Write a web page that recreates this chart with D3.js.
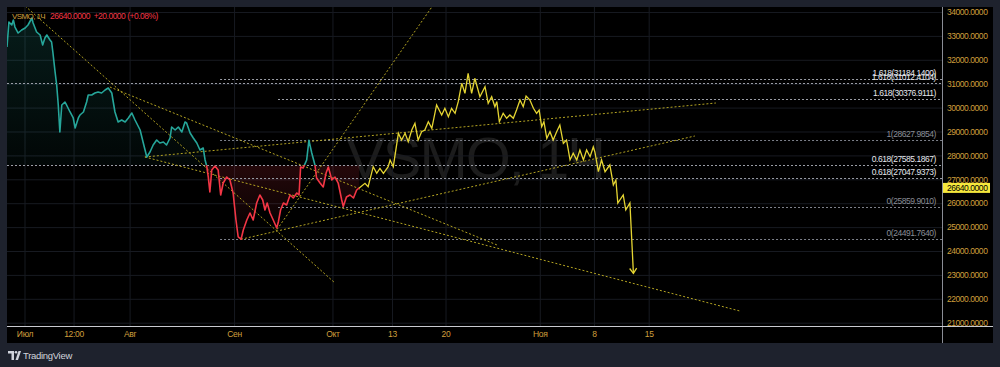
<!DOCTYPE html>
<html><head><meta charset="utf-8">
<script src="https://cdn.jsdelivr.net/npm/d3@7/dist/d3.min.js"></script>
<style>
html,body{margin:0;padding:0;background:#1e222d;overflow:hidden;}
svg{display:block;}
text{font-family:"Liberation Sans",Arial,sans-serif;}
</style></head><body>
<svg id="chart" width="1000" height="367"></svg>
<script>
// ---------- DATA ----------
// hourly bar index (x) and price (y) of the VSMO baseline series
const historyBars = [0,6,15,20,25,35,46,57,66,78,82,93,104,112,119,125,135,140,144,151,156,161,166,172,182,187,198,208,214,224,229,240,250,255,266,276,286,297,308,318,329,339,349,360,371,381,392,402,418,428,439,449,459,470,480,491,501,512,517,528,538,549,559,564,575,585,596,606,616,622,627,632,637,643,653,663,671,679,690,700,710,719,726,735,742,753,763,773,784,794,803,810,817,826,836,847,852,859,868,878,889,899,910,917,922,930,941,948,957,967,972,983,993,1002,1009,1020,1030,1040,1051,1056,1066,1077,1088,1098,1106];
const historyPrices = [32535,33581,33456,33665,33372,33121,33247,33330,33456,33749,33540,33163,33038,32619,32912,33038,32828,32745,32326,31489,30946,30109,28979,30109,30234,30109,29816,29565,29146,29565,29690,29816,30234,30527,30527,30611,30653,30611,30736,30820,30611,29816,29397,29481,29397,29565,29774,29481,29063,28519,27933,28142,28435,28644,28519,28561,28435,28728,29188,29063,29188,28979,29397,29356,28937,28728,28519,28226,28310,27808,27557,27096,26469,27389,27557,27389,26343,26845,27096,26971,26427,25297,24586,24492,24879,25297,25590,25297,26008,26343,26134,25716,26008,25590,25297,24962,25213,25716,26008,25925,26343,26218,26427,26343,27515,27473,27808,28628,28100,27598,27054,26845,26678,27264,27515,26971,27096,26845,26134,25860,26259,26343,26218,26552,26640];
const baselineValue = 27585.1867;

// projected (drawn) path
const pathBars = [1106,1124,1134,1150,1161,1171,1182,1197,1203,1213,1229,1239,1250,1260,1271,1281,1291,1302,1312,1323,1334,1349,1365,1375,1386,1396,1407,1417,1428,1438,1448,1459,1469,1485,1501,1511,1522,1532,1538,1546,1558,1569,1579,1590,1600,1611,1621,1630,1642,1653,1663,1671,1679,1686,1695,1705,1715,1726,1736,1747,1757,1768,1778,1789,1799,1810,1820,1831,1841,1846,1857,1867,1878,1893,1904,1912,1918,1935,1943,1956,1967];
const pathPrices = [26640,26833,26690,27527,27251,27460,27251,27527,27808,27527,28925,28644,28925,28573,29063,29343,28644,28992,29063,29410,29134,30109,29690,29971,29619,29971,29761,30247,31017,30598,31435,30598,31226,30456,30874,30180,30456,30038,30247,29410,29761,29552,29690,29552,29900,30318,30038,30485,30318,29971,29761,29900,29201,29410,28716,28992,28644,28992,29272,28506,28644,27808,28088,27808,28226,27808,28226,27946,28352,28142,27318,27808,27318,27598,26762,26971,26008,26343,25716,26008,23067];

// trend lines: [bar1, price1, bar2, price2]
const trendLines = [
  [57, 34251, 1030, 22661],
  [323, 30862, 1539, 24251],
  [433, 27933, 2301, 21490],
  [433, 27933, 2226, 30192],
  [735, 24492, 2160, 28812],
  [848, 24900, 1334, 34209]
];

// fibonacci levels
const fibValues = [31184.1400, 31012.4104, 30376.9111, 28627.9854, 27585.1867, 27047.9373, 25859.9010, 24491.7640];
const fibLabels = ["1.618(31184.1400)","1.618(31012.4104)","1.618(30376.9111)","1(28627.9854)","0.618(27585.1867)","0.618(27047.9373)","0(25859.9010)","0(24491.7640)"];
const fibStartBars = [669, 0, 851, 669, 0, 669, 851, 669];
const fibBright = [true, true, true, false, true, true, false, false];

// axes
const priceTicks = [21000,22000,23000,24000,25000,26000,27000,28000,29000,30000,31000,32000,33000,34000];
const timeTickBars = [55,209,385,713,1022,1209,1377,1673,1843,2015];
const timeTickLabels = ["Июл","12:00","Авг","Сен","Окт","13","20","Ноя","8","15"];

const symbolName = "VSMO, 1Ч";
const lastPrice = 26640;
const changeText = "26640.0000  +20.0000 (+0.08%)";

// ---------- DRAW ----------
const W = 1000, H = 367;
const P = {l:7, t:7, r:942, b:326};
const gold = "#cf9f3c";
const svg = d3.select("#chart");
const x = d3.scaleLinear().domain([0, 2936]).range([P.l, P.r]);
const y = d3.scaleLinear().domain([20862, 34209]).range([P.b, P.t]);

svg.append("rect").attr("width", W).attr("height", H).attr("fill", "#1e222d");
svg.append("rect").attr("x", 7).attr("y", 7).attr("width", 986).attr("height", 336).attr("fill", "#000");

const defs = svg.append("defs");
defs.append("clipPath").attr("id","plotClip").append("rect")
  .attr("x",P.l).attr("y",P.t).attr("width",P.r-P.l).attr("height",P.b-P.t);
const yb = y(baselineValue);
defs.append("clipPath").attr("id","aboveClip").append("rect")
  .attr("x",P.l).attr("y",P.t).attr("width",P.r-P.l).attr("height",yb-P.t);
defs.append("clipPath").attr("id","belowClip").append("rect")
  .attr("x",P.l).attr("y",yb).attr("width",P.r-P.l).attr("height",P.b-yb);
const gT = defs.append("linearGradient").attr("id","gTeal").attr("gradientUnits","userSpaceOnUse")
  .attr("x1",0).attr("x2",0).attr("y1",y(d3.max(historyPrices))).attr("y2",yb);
gT.append("stop").attr("offset",0).attr("stop-color","rgb(38,166,154)").attr("stop-opacity",0.17);
gT.append("stop").attr("offset",1).attr("stop-color","rgb(38,166,154)").attr("stop-opacity",0.04);
const gR = defs.append("linearGradient").attr("id","gRed").attr("gradientUnits","userSpaceOnUse")
  .attr("x1",0).attr("x2",0).attr("y1",yb).attr("y2",y(d3.min(historyPrices)));
gR.append("stop").attr("offset",0).attr("stop-color","rgb(242,54,69)").attr("stop-opacity",0.15);
gR.append("stop").attr("offset",1).attr("stop-color","rgb(242,54,69)").attr("stop-opacity",0.02);
const mk = defs.append("marker").attr("id","arrow").attr("markerUnits","userSpaceOnUse")
  .attr("markerWidth",12).attr("markerHeight",12).attr("refX",6).attr("refY",6).attr("orient","auto")
  .attr("viewBox","0 0 12 12");
mk.append("path").attr("d","M1,2.5 L6,6 L1,9.5").attr("fill","none").attr("stroke","#e5d532").attr("stroke-width",1.3);

// watermark
svg.append("text").attr("x", 475).attr("y", 178).attr("text-anchor","middle")
  .attr("font-size", 58).attr("letter-spacing", -2).attr("fill", "#1c1c1c").text(symbolName);

// grid
const grid = svg.append("g").attr("clip-path","url(#plotClip)");
grid.selectAll("line.h").data(priceTicks).join("line")
  .attr("x1",P.l).attr("x2",P.r).attr("y1",d=>y(d)+0.5).attr("y2",d=>y(d)+0.5)
  .attr("stroke","#171a21").attr("stroke-width",1);
grid.selectAll("line.v").data(timeTickBars).join("line")
  .attr("x1",d=>x(d)+0.5).attr("x2",d=>x(d)+0.5).attr("y1",P.t).attr("y2",P.b)
  .attr("stroke","#171a21").attr("stroke-width",1);

const plotG = svg.append("g").attr("clip-path","url(#plotClip)");
const hist = historyBars.map((b,i)=>[b, historyPrices[i]]);

// baseline fills
const area = d3.area().x(d=>x(d[0])).y0(yb).y1(d=>y(d[1]));
plotG.append("g").attr("clip-path","url(#aboveClip)").append("path")
  .attr("d", area(hist)).attr("fill","url(#gTeal)");
plotG.append("g").attr("clip-path","url(#belowClip)").append("path")
  .attr("d", area(hist)).attr("fill","url(#gRed)");

// fib lines
const fibG = plotG.append("g");
fibValues.forEach((v,i)=>{
  fibG.append("line").attr("x1", x(fibStartBars[i])).attr("x2", P.r)
    .attr("y1", Math.round(y(v))+0.5).attr("y2", Math.round(y(v))+0.5)
    .attr("stroke", fibBright[i] ? "#9a9da6" : "#7d808a").attr("stroke-width",1)
    .attr("stroke-dasharray","2,2");
  fibG.append("text").attr("x", P.r-6).attr("y", y(v)-3).attr("text-anchor","end")
    .attr("font-size",8.5).attr("letter-spacing",-0.45)
    .attr("fill", fibBright[i] ? "#e6e8ee" : "#8a8d96").text(fibLabels[i]);
});

// trend lines
plotG.selectAll("line.trend").data(trendLines).join("line")
  .attr("x1",d=>x(d[0])).attr("y1",d=>y(d[1])).attr("x2",d=>x(d[2])).attr("y2",d=>y(d[3]))
  .attr("stroke","#b3a322").attr("stroke-width",1).attr("stroke-dasharray","2,2");

// price line
const line = d3.line().x(d=>x(d[0])).y(d=>y(d[1]));
plotG.append("g").attr("clip-path","url(#aboveClip)").append("path")
  .attr("d", line(hist)).attr("fill","none").attr("stroke","#26a69a").attr("stroke-width",1.6).attr("stroke-linejoin","round");
plotG.append("g").attr("clip-path","url(#belowClip)").append("path")
  .attr("d", line(hist)).attr("fill","none").attr("stroke","#f23645").attr("stroke-width",1.6).attr("stroke-linejoin","round");

// projected path
const proj = pathBars.map((b,i)=>[b, pathPrices[i]]);
svg.append("path").attr("d", line(proj)).attr("fill","none").attr("stroke","#e5d532")
  .attr("stroke-width",1.3).attr("stroke-linejoin","miter").attr("marker-end","url(#arrow)");

// axes
const yAxis = d3.axisRight(y).tickValues(priceTicks).tickFormat(d3.format(".4f")).tickSize(0).tickPadding(5);
const ya = svg.append("g").attr("transform",`translate(${P.r},0)`).call(yAxis);
ya.select(".domain").remove();
ya.selectAll("text").attr("fill",gold).attr("font-size",8.5).attr("letter-spacing",-0.45)
  .attr("font-family",'"Liberation Sans",Arial,sans-serif');

const xAxis = d3.axisBottom(x).tickValues(timeTickBars).tickFormat((d,i)=>timeTickLabels[i]).tickSize(0).tickPadding(5);
const xa = svg.append("g").attr("transform",`translate(0,${P.b})`).call(xAxis);
xa.select(".domain").remove();
xa.selectAll("text").attr("fill",gold).attr("font-size",8.5).attr("letter-spacing",-0.3)
  .attr("font-family",'"Liberation Sans",Arial,sans-serif');

// separators
svg.append("line").attr("x1",P.r+0.5).attr("x2",P.r+0.5).attr("y1",7).attr("y2",343).attr("stroke","#8a8d96");
svg.append("line").attr("x1",7).attr("x2",993).attr("y1",P.b+0.5).attr("y2",P.b+0.5).attr("stroke","#c8cad0");

// last price label
const yl = y(lastPrice);
svg.append("rect").attr("x",P.r+1).attr("y",yl-5).attr("width",47).attr("height",10).attr("fill","#f6e83c");
svg.append("text").attr("x",P.r+5).attr("y",yl+3).attr("font-size",8.5).attr("letter-spacing",-0.45)
  .attr("fill","#000").text(d3.format(".4f")(lastPrice));

// header
svg.append("text").attr("x",12).attr("y",19).attr("font-size",8).attr("letter-spacing",-0.6)
  .attr("fill",gold).text(symbolName);
svg.append("text").attr("x",50).attr("y",19).attr("font-size",8.5).attr("letter-spacing",-0.5)
  .attr("fill","#f23645").attr("xml:space","preserve").style("white-space","pre").text(changeText);

// logo
const lg = svg.append("g").attr("transform","translate(8,351)");
lg.append("path").attr("d","M0,0 H6 V9 H3.5 V2.5 H0 Z").attr("fill","#d1d4dc");
lg.append("circle").attr("cx",8).attr("cy",1.3).attr("r",1.3).attr("fill","#d1d4dc");
lg.append("path").attr("d","M7.5,9 L10.5,0 H13 L10,9 Z").attr("fill","#d1d4dc");
svg.append("text").attr("x",23).attr("y",359).attr("font-size",9.5).attr("letter-spacing",-0.3)
  .attr("fill","#d1d4dc").text("TradingView");
</script>
</body></html>
